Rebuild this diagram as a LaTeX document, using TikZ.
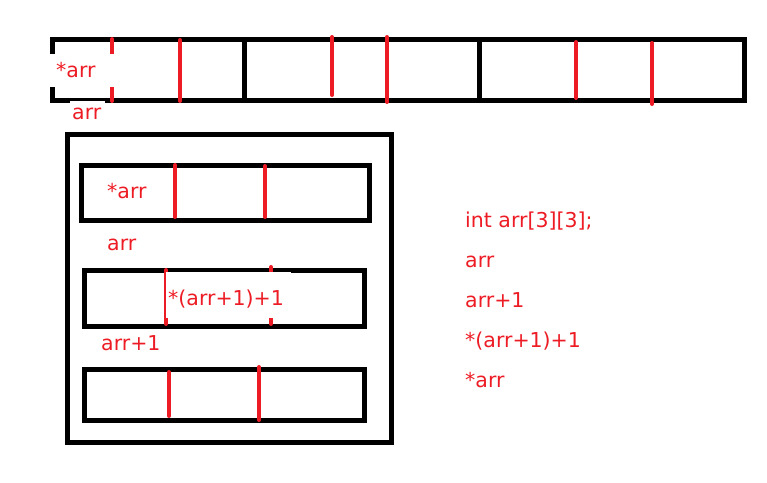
\documentclass[tikz,border=0pt]{standalone}
\usepackage{fontspec}
\setmainfont{DejaVu Sans}
\definecolor{paintred}{RGB}{237,28,36}
\tikzset{
    box/.style={line width=5pt, black},
    cut/.style={line width=4pt, paintred, line cap=round},
    lbl/.style={paintred, anchor=base west, inner sep=0pt, font=\fontsize{20.5}{24}\selectfont}
}
\begin{document}
\begin{tikzpicture}[x=1pt, y=-1pt]
    \useasboundingbox (0,0) rectangle (767,482);
    % Draw flat array
    \draw [box] (52,39) rectangle (744,100);
    \draw [box] (244,39) -- (244,100);
    \draw [box] (479,39) -- (479,100);
    \draw [cut] (112,39) -- (112,101);
    \draw [cut] (180,40) -- (180,101);
    \draw [cut] (332,37) -- (332,95);
    \draw [cut] (387,37) -- (387,102);
    \draw [cut] (576,42) -- (576,98);
    \draw [cut] (652,43) -- (652,104);
    \fill [white] (48,54) rectangle (115,87);
    \fill [white] (70,101) rectangle (105,122);
    \node [lbl] (starflat) at (56,77) {*arr};
    \node [lbl] (arrflat) at (72,119) {arr};
    % Draw rows
    \draw [box] (67,134) rectangle (391,442);
    \draw [box] (81,165) rectangle (369,220);
    \draw [box] (84,270.5) rectangle (364,326);
    \draw [box] (84,369.5) rectangle (364,420.5);
    \draw [cut] (175,165) -- (175,217);
    \draw [cut] (265,166) -- (265,217);
    \draw [cut] (166,270) -- (166,324);
    \draw [cut] (271,267) -- (271,324);
    \draw [cut] (169,372) -- (169,416);
    \draw [cut] (259,367) -- (259,420);
    \fill [white] (166,272) rectangle (291,318);
    \node [lbl] (starrow) at (107,198) {*arr};
    \node [lbl] (arrrow) at (107,250) {arr};
    \node [lbl] (elem) at (168,305) {*(arr+1)+1};
    \node [lbl] (nextrow) at (101,350) {arr+1};
    % Legend
    \node [lbl] (decl) at (465,227) {int arr[3][3];};
    \node [lbl] (lgarr) at (465,267) {arr};
    \node [lbl] (lgnext) at (465,307) {arr+1};
    \node [lbl] (lgelem) at (465,347) {*(arr+1)+1};
    \node [lbl] (lgstar) at (465,387) {*arr};
\end{tikzpicture}
\end{document}
